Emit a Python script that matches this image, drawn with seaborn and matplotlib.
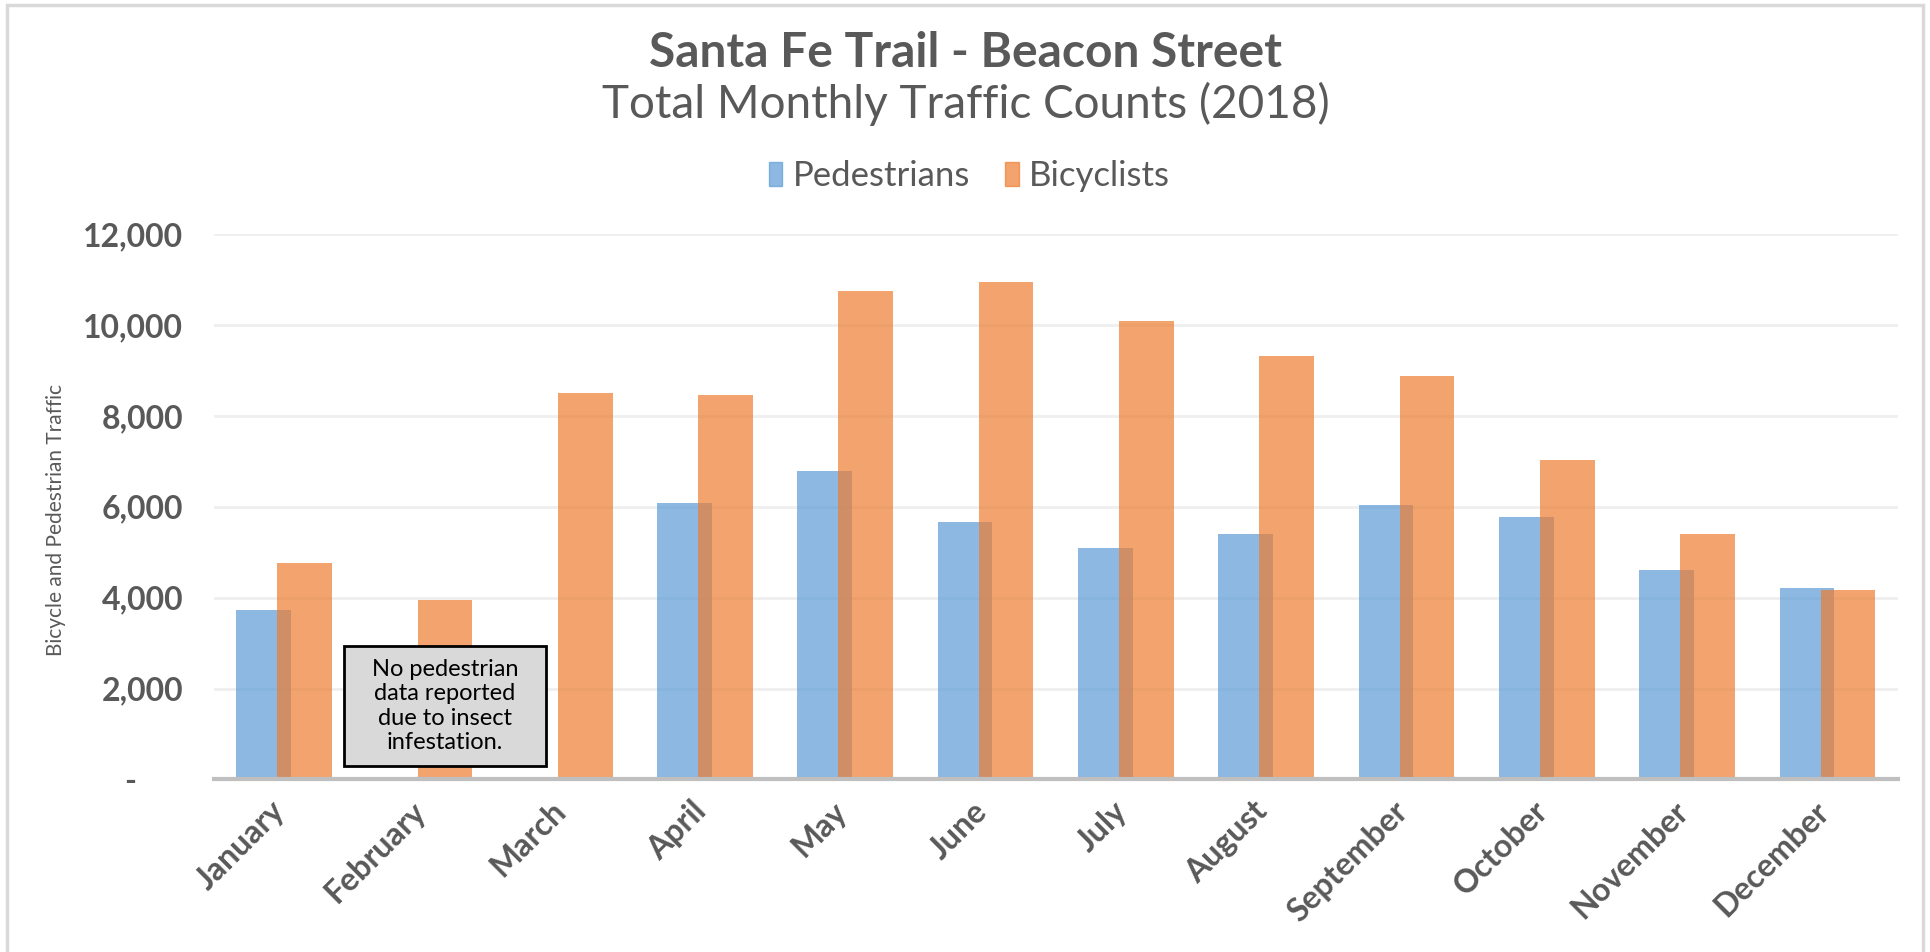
import matplotlib
matplotlib.use("Agg")
import matplotlib.pyplot as plt
import matplotlib.patches as mpatches
from matplotlib.ticker import FuncFormatter
import matplotlib.transforms as mtransforms
import numpy as np
import pandas as pd
import seaborn as sns

# Monthly totals, 2018
months = ["January", "February", "March", "April", "May", "June",
          "July", "August", "September", "October", "November", "December"]
pedestrians = [3735, np.nan, np.nan, 6075, 6785, 5655,
               5085, 5390, 6040, 5765, 4610, 4205]
bicyclists = [4760, 3940, 8510, 8450, 10755, 10950,
              10080, 9310, 8870, 7030, 5410, 4170]

y_ticks = [0, 2000, 4000, 6000, 8000, 10000, 12000]
note_text = "No pedestrian\ndata reported\ndue to insect\ninfestation."

TEXT_GREY = "#595959"
BLUE = "#5B9BD5"
ORANGE = "#ED7D31"
FONT = "Lato"

sns.set_theme(style="white")
plt.rcParams["font.family"] = [FONT, "DejaVu Sans"]

idx = np.arange(len(months))
bar_w = 0.39
shift = 0.146

ped_df = pd.DataFrame({"pos": idx - shift, "value": pedestrians}).dropna()
bike_df = pd.DataFrame({"pos": idx + shift, "value": bicyclists})

fig = plt.figure(figsize=(19.31, 9.52), dpi=100)
ax = fig.add_axes([0.1108, 0.1812, 0.8719, 0.5730])

ax.set_axisbelow(True)
ax.yaxis.grid(True, color="#EFEFEF", linewidth=2)
ax.xaxis.grid(False)

sns.barplot(data=ped_df, x="pos", y="value", native_scale=True, width=bar_w,
            color=BLUE, alpha=0.7, saturation=1, linewidth=0, ax=ax,
            errorbar=None)
sns.barplot(data=bike_df, x="pos", y="value", native_scale=True, width=bar_w,
            color=ORANGE, alpha=0.7, saturation=1, linewidth=0, ax=ax,
            errorbar=None)

ax.set_xlim(-0.5, len(months) - 0.5)
ax.set_ylim(0, 12000)
ax.set_yticks(y_ticks)
ax.yaxis.set_major_formatter(FuncFormatter(
    lambda v, p: "-      " if v == 0 else f"{int(v):,}"))
ax.tick_params(axis="y", length=0, pad=22, labelsize=23, labelcolor=TEXT_GREY)
for t in ax.get_yticklabels():
    t.set_fontweight("bold")

ax.set_xticks(idx)
ax.set_xticklabels(months, rotation=45, ha="right", va="top",
                   rotation_mode="anchor", fontsize=23, fontweight="bold",
                   color=TEXT_GREY)
ax.tick_params(axis="x", length=0, pad=12)
offset = mtransforms.ScaledTranslation(-10 / 72, 0, fig.dpi_scale_trans)
for t in ax.get_xticklabels():
    t.set_transform(t.get_transform() + offset)

for side in ["top", "right", "left"]:
    ax.spines[side].set_visible(False)
ax.spines["bottom"].set_color("#BFBFBF")
ax.spines["bottom"].set_linewidth(3)

ax.set_xlabel("")
ax.set_ylabel("Bicycle and Pedestrian Traffic", fontsize=15, color=TEXT_GREY)
ax.yaxis.set_label_coords(-0.088, 0.475)

# Note box over February
ax.add_patch(mpatches.Rectangle((0.426, 301), 1.44, 2625, facecolor="#D9D9D9",
                                edgecolor="black", linewidth=2, zorder=5))
ax.text(1.146, 1613, note_text, ha="center", va="center", fontsize=17,
        color="black", linespacing=1.2, zorder=6)

# Titles
fig.text(0.5, 0.944, "Santa Fe Trail - Beacon Street", ha="center", va="center",
         fontsize=34.5, fontweight="bold", color=TEXT_GREY)
fig.text(0.5, 0.891, "Total Monthly Traffic Counts (2018)", ha="center",
         va="center", fontsize=33, fontweight="normal", color=TEXT_GREY)

handles = [mpatches.Patch(color=BLUE, alpha=0.7, label="Pedestrians"),
           mpatches.Patch(color=ORANGE, alpha=0.7, label="Bicyclists")]
fig.legend(handles=handles, loc="center", bbox_to_anchor=(0.502, 0.815),
           ncol=2, frameon=False, fontsize=25, handlelength=0.4,
           handleheight=0.7, handletextpad=0.3, columnspacing=1.0,
           labelcolor=TEXT_GREY)

# Chart border
fig.patches.append(mpatches.Rectangle((7 / 1931, -0.01), (1923 - 7) / 1931,
                                      1 - 5 / 952 + 0.01,
                                      transform=fig.transFigure, fill=False,
                                      edgecolor="#D9D9D9", linewidth=2.5))

fig.savefig("out.png", dpi=100)
